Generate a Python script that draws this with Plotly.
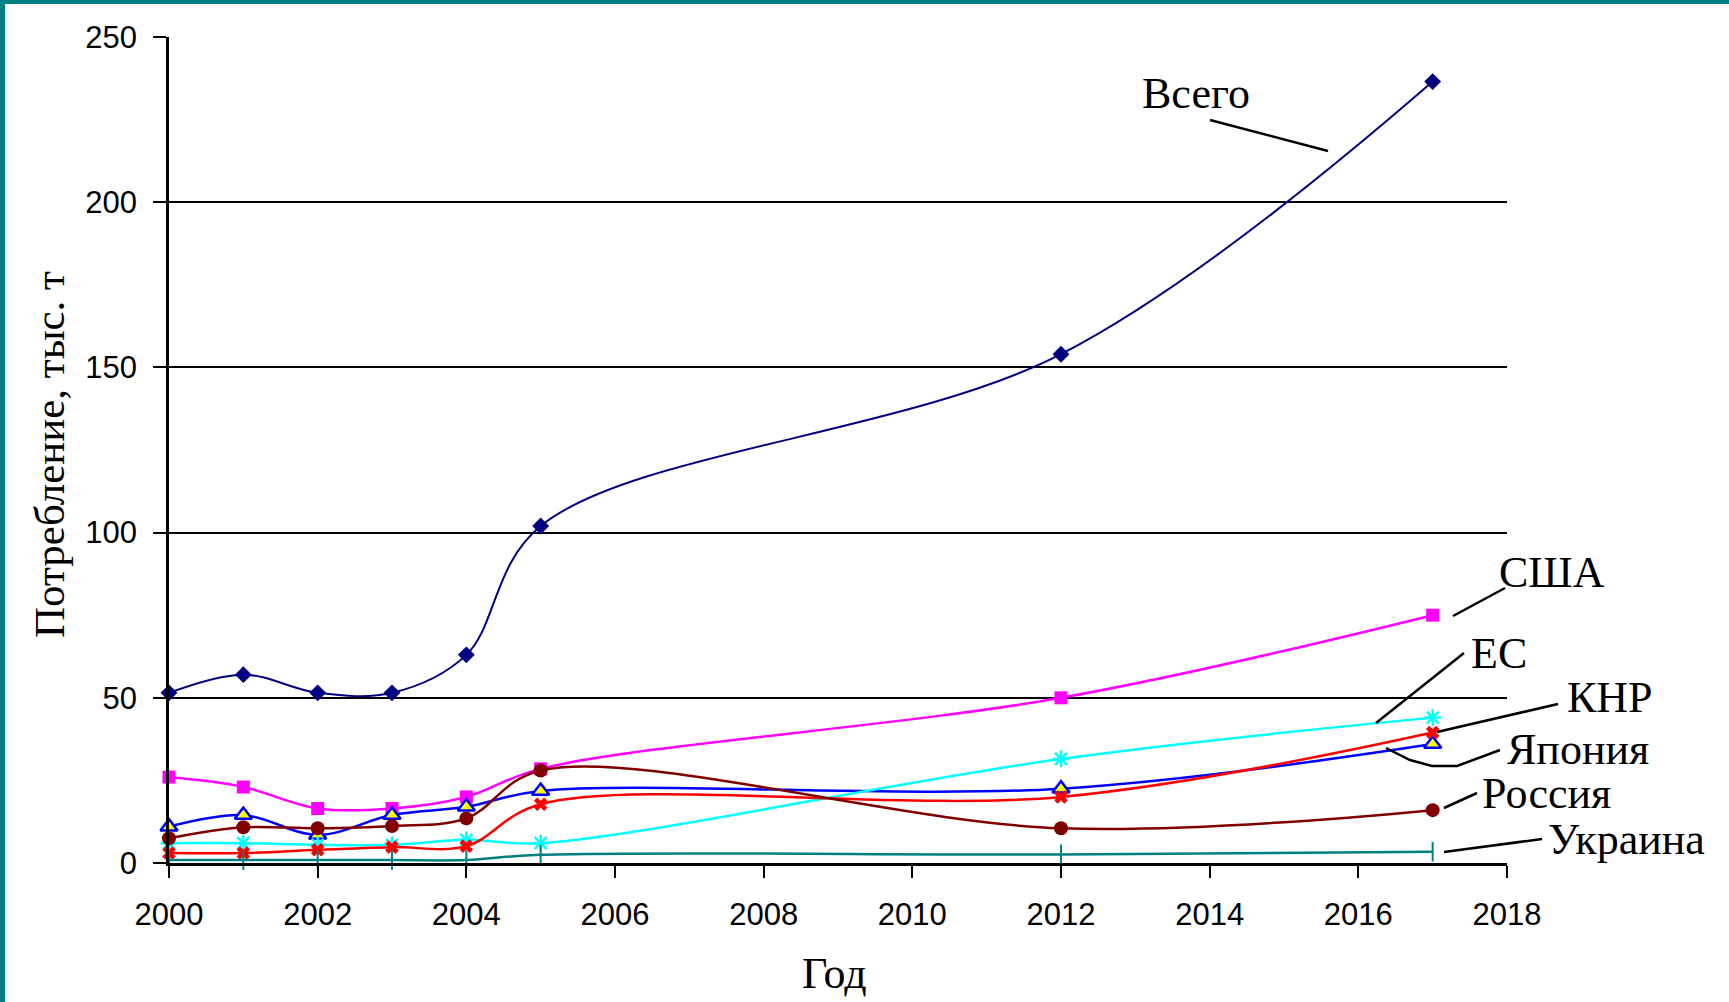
import plotly.graph_objects as go

# ---------------- data ----------------
years = [2000, 2001, 2002, 2003, 2004, 2005, 2012, 2017]
total = [51.5, 57, 51.5, 51.5, 63, 102, 154, 236.5]      # Всего
usa = [26, 23, 16.5, 16.5, 20, 28.5, 50, 75]               # США
japan = [11, 14.5, 8.5, 14.5, 17, 21.8, 22.5, 36]          # Япония
eu = [6, 6, 5.5, 5.5, 7, 6, 31.5, 44]                       # ЕС
china = [3, 3, 4, 4.8, 5.1, 17.8, 20, 39.5]                 # КНР
russia = [7.5, 10.8, 10.5, 11.2, 13.5, 28, 10.5, 16]        # Россия
ukraine = [0.9, 0.9, 0.9, 0.9, 0.9, 2.5, 2.6, 3.4]          # Украина

x_ticks = [2000, 2002, 2004, 2006, 2008, 2010, 2012, 2014, 2016, 2018]
y_ticks = [0, 50, 100, 150, 200, 250]
y_title = "Потребление, тыс. т"
x_title = "Год"

# ---------------- layout geometry (pixels) ----------------
W, H = 1729, 1002
ML, MR, MT, MB = 169, 222, 37, 139
PW, PH = W - ML - MR, H - MT - MB


def px(xp):
    return (xp - ML) / PW


def py(yp):
    return (H - MB - yp) / PH


SERIF = "Liberation Serif, Times New Roman, serif"
SANS = "Liberation Sans, Arial, sans-serif"

fig = go.Figure()


def add(y, name, color, symbol, size, lw, mcolor=None, mline=None, mlw=0):
    fig.add_trace(go.Scatter(
        x=years, y=y, name=name, mode="lines+markers",
        line=dict(color=color, width=lw, shape="spline", smoothing=1.0),
        marker=dict(symbol=symbol, size=size, color=mcolor or color,
                    line=dict(color=mline or color, width=mlw)),
        cliponaxis=False, showlegend=False))


add(total, "Всего", "#000080", "diamond", 13, 2)
add(usa, "США", "#FF00FF", "square", 13, 2.5)
add(japan, "Япония", "#0000FF", "triangle-up", 15, 2.5, mcolor="#FFFF00", mline="#0000FF", mlw=2.5)
add(eu, "ЕС", "#00FFFF", "asterisk-open", 14, 2.5, mlw=2.5)
add(china, "КНР", "#FF0000", "x", 12, 2.5)
add(russia, "Россия", "#800000", "circle", 14, 2.5)
add(ukraine, "Украина", "#008080", "line-ns-open", 14, 2.5, mlw=2)

fig.update_layout(
    width=W, height=H,
    margin=dict(l=ML, r=MR, t=MT, b=MB, pad=0),
    paper_bgcolor="white", plot_bgcolor="white",
    showlegend=False,
    xaxis=dict(range=[2000, 2018], tickvals=x_ticks, ticktext=[str(v) for v in x_ticks],
               showgrid=False, zeroline=False, showline=True, linecolor="black", linewidth=2.5,
               ticks="outside", ticklen=12, tickwidth=2, tickcolor="black",
               tickfont=dict(family=SANS, size=31, color="black"), ticklabelstandoff=10),
    yaxis=dict(range=[0, 250], tickvals=y_ticks, ticktext=[str(v) for v in y_ticks],
               showgrid=True, gridcolor="black", gridwidth=2.3, zeroline=False,
               showline=True, linecolor="black", linewidth=2.5,
               ticks="outside", ticklen=13, tickwidth=2, tickcolor="black",
               tickfont=dict(family=SANS, size=31, color="black"), ticklabelstandoff=10),
)

ann = []
# axis titles
ann.append(dict(text=x_title, x=px(834), y=py(973), xref="paper", yref="paper",
                showarrow=False, xanchor="center", yanchor="middle",
                font=dict(family=SERIF, size=44, color="black")))
ann.append(dict(text=y_title, x=px(50), y=py(455), xref="paper", yref="paper",
                showarrow=False, xanchor="center", yanchor="middle", textangle=-90,
                font=dict(family=SERIF, size=43, color="black")))

# series labels
labels = [
    ("Всего", 1196, 93),
    ("США", 1552, 572),
    ("ЕС", 1499, 653),
    ("КНР", 1610, 697),
    ("Япония", 1578, 749),
    ("Россия", 1546, 793),
    ("Украина", 1626, 839),
]
for t, lx, ly in labels:
    ann.append(dict(text=t, x=px(lx), y=py(ly), xref="paper", yref="paper",
                    showarrow=False, xanchor="center", yanchor="middle",
                    font=dict(family=SERIF, size=44, color="black")))
fig.update_layout(annotations=ann)

# leader lines
leaders = [
    [(1210, 120), (1328, 151)],
    [(1453, 616), (1505, 588)],
    [(1376, 723), (1464, 653)],
    [(1437, 732), (1558, 704)],
    [(1386, 748), (1410, 760), (1432, 766), (1457, 766), (1500, 750)],
    [(1444, 808), (1477, 793)],
    [(1444, 852), (1542, 839)],
]
shapes = []
for pts in leaders:
    path = "M " + " L ".join(f"{px(a)},{py(b)}" for a, b in pts)
    shapes.append(dict(type="path", path=path, xref="paper", yref="paper",
                       line=dict(color="black", width=2.5)))
# teal frame edges (top and left)
shapes.append(dict(type="rect", xref="paper", yref="paper", x0=px(0), x1=px(W), y0=py(4), y1=py(0),
                   fillcolor="#008080", line=dict(width=0), layer="above"))
shapes.append(dict(type="rect", xref="paper", yref="paper", x0=px(0), x1=px(5), y0=py(H), y1=py(0),
                   fillcolor="#008080", line=dict(width=0), layer="above"))
fig.update_layout(shapes=shapes)

fig.write_html("out.html")
